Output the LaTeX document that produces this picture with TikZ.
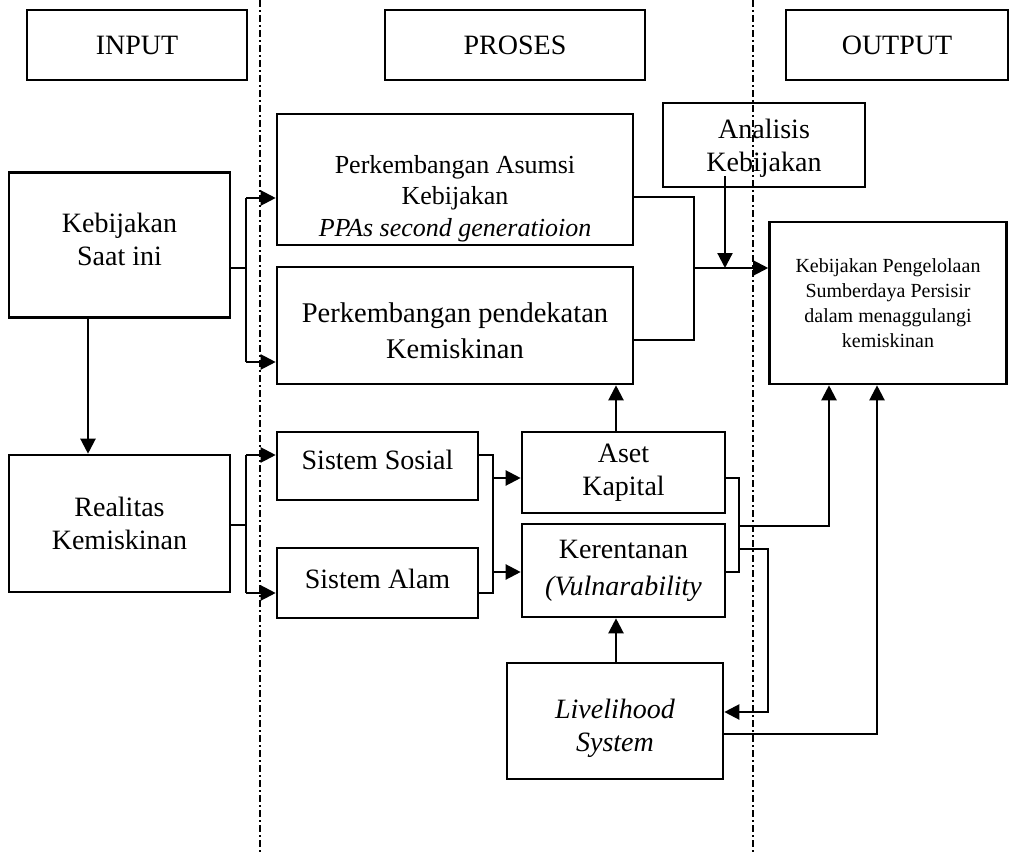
\documentclass[tikz,border=0pt]{standalone}
\usepackage{fontspec}
\setmainfont{Liberation Serif}
\usetikzlibrary{arrows.meta}
\begin{document}
\begin{tikzpicture}[x=1pt,y=-1pt,
  box/.style={draw,line width=2.6pt,inner sep=0pt,align=center,
    font=\fontsize{28pt}{33pt}\selectfont},
  lbl/.style={inner sep=0pt,align=center,font=\fontsize{28pt}{33pt}\selectfont},
  conn/.style={line width=2.2pt},
  arr/.style={line width=2.2pt,-{Triangle[length=15pt,width=15pt]}},
  sep/.style={line width=1.6pt,dash pattern=on 7pt off 3pt on 2pt off 3pt}]
\useasboundingbox (0,0) rectangle (1033,853);
% header boxes
\node[box,minimum width=220pt,minimum height=70pt] (input) at (137,45) {INPUT};
\node[box,minimum width=260pt,minimum height=70pt] (proses) at (515,45) {PROSES};
\node[box,minimum width=222pt,minimum height=70pt] (output) at (897,45) {OUTPUT};
% input column
\node[box,minimum width=221pt,minimum height=145pt] (ks) at (119.5,245) {};
\node[lbl] (ksT) at ([yshift=6pt]ks.center) {Kebijakan\\Saat ini};
\node[box,minimum width=221pt,minimum height=137pt] (real) at (119.5,523.5) {Realitas\\Kemiskinan};
% process column
\node[box,minimum width=356pt,minimum height=131pt] (asumsi) at (455,179.5) {};
\node[lbl,font=\fontsize{26pt}{31.5pt}\selectfont] (asumsiT) at ([yshift=-19pt]asumsi.center)
  {Perkembangan Asumsi\\Kebijakan\\\textit{PPAs second generatioion}};
\node[box,minimum width=356pt,minimum height=117pt] (pend) at (455,325.5) {};
\node[lbl,font=\fontsize{28.5pt}{36pt}\selectfont] (pendT) at ([yshift=-5pt]pend.center)
  {Perkembangan pendekatan\\Kemiskinan};
\node[box,minimum width=202pt,minimum height=84pt] (anal) at (764,145) {};
\node[lbl] (analT) at ([yshift=-3pt]anal.center) {Analisis\\Kebijakan};
\node[box,minimum width=201pt,minimum height=68pt] (sos) at (377.5,466) {};
\node[lbl] (sosT) at ([yshift=6pt]sos.center) {Sistem Sosial};
\node[box,minimum width=201pt,minimum height=70pt] (alam) at (377.5,583) {};
\node[lbl] (alamT) at ([yshift=4pt]alam.center) {Sistem Alam};
\node[box,minimum width=203pt,minimum height=81pt] (aset) at (623.5,472.5) {Aset\\Kapital};
\node[box,minimum width=203pt,minimum height=93pt] (ker) at (623.5,570.5) {};
\node[lbl,font=\fontsize{28pt}{37pt}\selectfont] (kerT) at (ker.center) {Kerentanan\\\textit{(Vulnarability}};
\node[box,minimum width=216pt,minimum height=116pt] (live) at (615,721) {};
\node[lbl] (liveT) at ([yshift=-7pt]live.center) {\textit{Livelihood}\\\textit{System}};
% output column
\node[box,minimum width=237pt,minimum height=162pt,
  font=\fontsize{20pt}{25pt}\selectfont] (kp) at (888,303)
  {Kebijakan Pengelolaan\\Sumberdaya Persisir\\dalam menaggulangi\\kemiskinan};
% separators
\coordinate (s1t) at (260,0); \coordinate (s1b) at (260,853);
\coordinate (s2t) at (753,0); \coordinate (s2b) at (753,853);
\draw[sep] (s1t) -- (s1b);
\draw[sep] (s2t) -- (s2b);
% Kebijakan saat ini -> asumsi, pendekatan
\coordinate (bA) at (246,268); \coordinate (bAt) at (246,198); \coordinate (bAb) at (246,362);
\draw[conn] (ks.east |- bA) -- (bA);
\draw[conn] (bAt) -- (bAb);
\draw[arr] (bAt) -- (asumsi.west |- bAt);
\draw[arr] (bAb) -- (pend.west |- bAb);
% Kebijakan saat ini -> realitas
\coordinate (c88) at (88,0);
\draw[arr] (ks.south -| c88) -- (real.north -| c88);
% realitas -> sosial, alam
\coordinate (bB) at (246,525); \coordinate (bBt) at (246,455); \coordinate (bBb) at (246,593);
\draw[conn] (real.east |- bB) -- (bB);
\draw[conn] (bBt) -- (bBb);
\draw[arr] (bBt) -- (sos.west |- bBt);
\draw[arr] (bBb) -- (alam.west |- bBb);
% sosial, alam -> aset, kerentanan
\coordinate (bCt) at (493,455); \coordinate (bCb) at (493,593);
\coordinate (bC1) at (493,478); \coordinate (bC2) at (493,572);
\draw[conn] (sos.east |- bCt) -- (bCt) -- (bCb) -- (alam.east |- bCb);
\draw[arr] (bC1) -- (aset.west |- bC1);
\draw[arr] (bC2) -- (ker.west |- bC2);
% aset -> pendekatan, livelihood -> kerentanan
\coordinate (cx) at (616,0);
\draw[arr] (aset.north -| cx) -- (pend.south -| cx);
\draw[arr] (live.north -| cx) -- (ker.south -| cx);
% asumsi, pendekatan -> kebijakan pengelolaan
\coordinate (bDt) at (694,197); \coordinate (bDb) at (694,340); \coordinate (bD) at (694,268);
\draw[conn] (asumsi.east |- bDt) -- (bDt) -- (bDb) -- (pend.east |- bDb);
\draw[arr] (bD) -- (kp.west |- bD);
\coordinate (an) at (725,268);
\draw[arr] ([yshift=12pt]anal.south -| an) -- (an);
% aset, kerentanan -> kp, livelihood
\coordinate (bEt) at (739,478); \coordinate (bEb) at (739,572);
\coordinate (bE1) at (739,526); \coordinate (bE2) at (739,549);
\draw[conn] (aset.east |- bEt) -- (bEt) -- (bEb) -- (ker.east |- bEb);
\coordinate (kx1) at (829,0);
\draw[arr] (bE1) -- (bE1 -| kx1) -- (kp.south -| kx1);
\coordinate (lv) at (768,712);
\draw[arr] (bE2) -- (bE2 -| lv) -- (lv) -- (live.east |- lv);
\coordinate (kx2) at (877,734);
\draw[arr] (live.east |- kx2) -- (kx2) -- (kp.south -| kx2);
\end{tikzpicture}
\end{document}
